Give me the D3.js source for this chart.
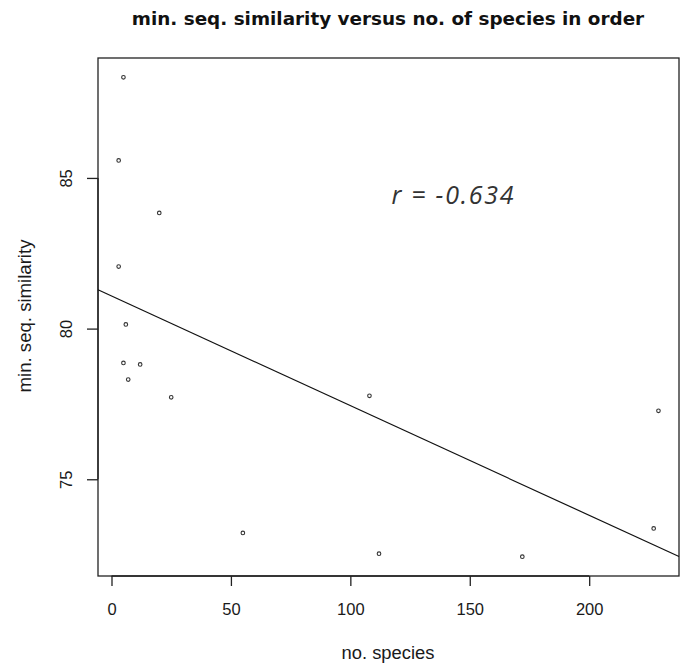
<!DOCTYPE html>
<html>
<head>
<meta charset="utf-8">
<script src="https://cdn.jsdelivr.net/npm/d3@7"></script>
<style>
  body { margin: 0; background: #fff; }
  text { font-family: "Liberation Sans", Arial, sans-serif; fill: #1a1a1a; }
</style>
</head>
<body>
<div id="chart"></div>
<script>
// no. of species in order vs min. seq. similarity
const species = [5, 3, 20, 3, 6, 5, 12, 7, 25, 55, 108, 112, 229, 227, 172];
const similarity = [88.34, 85.58, 83.84, 82.06, 80.14, 78.86, 78.81, 78.31, 77.72, 73.22, 77.77, 72.53, 77.27, 73.37, 72.43];
const xTicks = [0, 50, 100, 150, 200];
const yTicks = [75, 80, 85];
const rLabel = "r = -0.634";

const width = 683, height = 663;
const plotLeft = 98, plotRight = 679, plotTop = 58, plotBottom = 576;

const svg = d3.select("#chart").append("svg")
  .attr("width", width)
  .attr("height", height);

const x = d3.scaleLinear().domain([-5.65, 237.6]).range([plotLeft, plotRight]);
const y = d3.scaleLinear().domain([71.79, 88.98]).range([plotBottom, plotTop]);

// scale a text's font so it spans a given width
function fitWidth(sel, target) {
  const fs = +sel.attr("font-size");
  const w = sel.node().getComputedTextLength();
  sel.attr("font-size", fs * target / w);
}

// box
svg.append("rect")
  .attr("x", plotLeft).attr("y", plotTop)
  .attr("width", plotRight - plotLeft).attr("height", plotBottom - plotTop)
  .attr("fill", "none").attr("stroke", "#222").attr("stroke-width", 1.3);

// axes
const xAxis = svg.append("g")
  .attr("transform", "translate(0," + plotBottom + ")")
  .call(d3.axisBottom(x).tickValues(xTicks).tickSize(10));
xAxis.select(".domain").attr("d", "M" + x(0) + ",0H" + x(200)).attr("stroke", "#222").attr("stroke-width", 1.3);
xAxis.selectAll("line").attr("stroke", "#222").attr("stroke-width", 1.3);
xAxis.selectAll("text")
  .attr("y", 39).attr("dy", null)
  .attr("font-size", 16.5).attr("fill", "#1a1a1a")
  .style("font-family", "'Liberation Sans', Arial, sans-serif");

const yAxis = svg.append("g")
  .attr("transform", "translate(" + plotLeft + ",0)")
  .call(d3.axisLeft(y).tickValues(yTicks).tickSize(11));
yAxis.select(".domain").attr("d", "M0," + y(75) + "V" + y(85)).attr("stroke", "#222").attr("stroke-width", 1.3);
yAxis.selectAll("line").attr("stroke", "#222").attr("stroke-width", 1.3);
yAxis.selectAll("text").remove();
yAxis.selectAll(".tick").append("text")
  .attr("transform", "translate(-26,0) rotate(-90)")
  .attr("text-anchor", "middle")
  .attr("font-size", 16.5)
  .text(d => d);

// points
svg.append("g").selectAll("circle")
  .data(species.map((s, i) => [s, similarity[i]]))
  .join("circle")
  .attr("cx", d => x(d[0]))
  .attr("cy", d => y(d[1]))
  .attr("r", 1.8)
  .attr("fill", "none")
  .attr("stroke", "#333")
  .attr("stroke-width", 1.1);

// least squares line
const mx = d3.mean(species), my = d3.mean(similarity);
let sxy = 0, sxx = 0;
species.forEach((s, i) => { sxy += (s - mx) * (similarity[i] - my); sxx += (s - mx) * (s - mx); });
const slope = sxy / sxx, intercept = my - slope * mx;
const x0 = x.domain()[0], x1 = x.domain()[1];
svg.append("line")
  .attr("x1", x(x0)).attr("y1", y(intercept + slope * x0))
  .attr("x2", x(x1)).attr("y2", y(intercept + slope * x1))
  .attr("stroke", "#111").attr("stroke-width", 1.2);

// r annotation
svg.append("text")
  .attr("x", 452.5).attr("y", 203.5)
  .attr("text-anchor", "middle")
  .attr("font-size", 25)
  .attr("font-style", "italic")
  .attr("textLength", 122)
  .attr("lengthAdjust", "spacing")
  .style("font-family", "'Open Sans', sans-serif")
  .style("fill", "#333")
  .text(rLabel);

// titles
const title = svg.append("text")
  .attr("x", 388).attr("y", 25)
  .attr("text-anchor", "middle")
  .attr("font-size", 16)
  .attr("font-weight", "bold")
  .style("font-family", "'DejaVu Sans', sans-serif")
  .style("fill", "#111")
  .text("min. seq. similarity versus no. of species in order");
fitWidth(title, 513);

const xTitle = svg.append("text")
  .attr("x", 388).attr("y", 659)
  .attr("text-anchor", "middle")
  .attr("font-size", 17)
  .text("no. species");
fitWidth(xTitle, 93);

const yTitle = svg.append("text")
  .attr("transform", "translate(31,316) rotate(-90)")
  .attr("text-anchor", "middle")
  .attr("font-size", 17)
  .text("min. seq. similarity");
fitWidth(yTitle, 153);
</script>
</body>
</html>
